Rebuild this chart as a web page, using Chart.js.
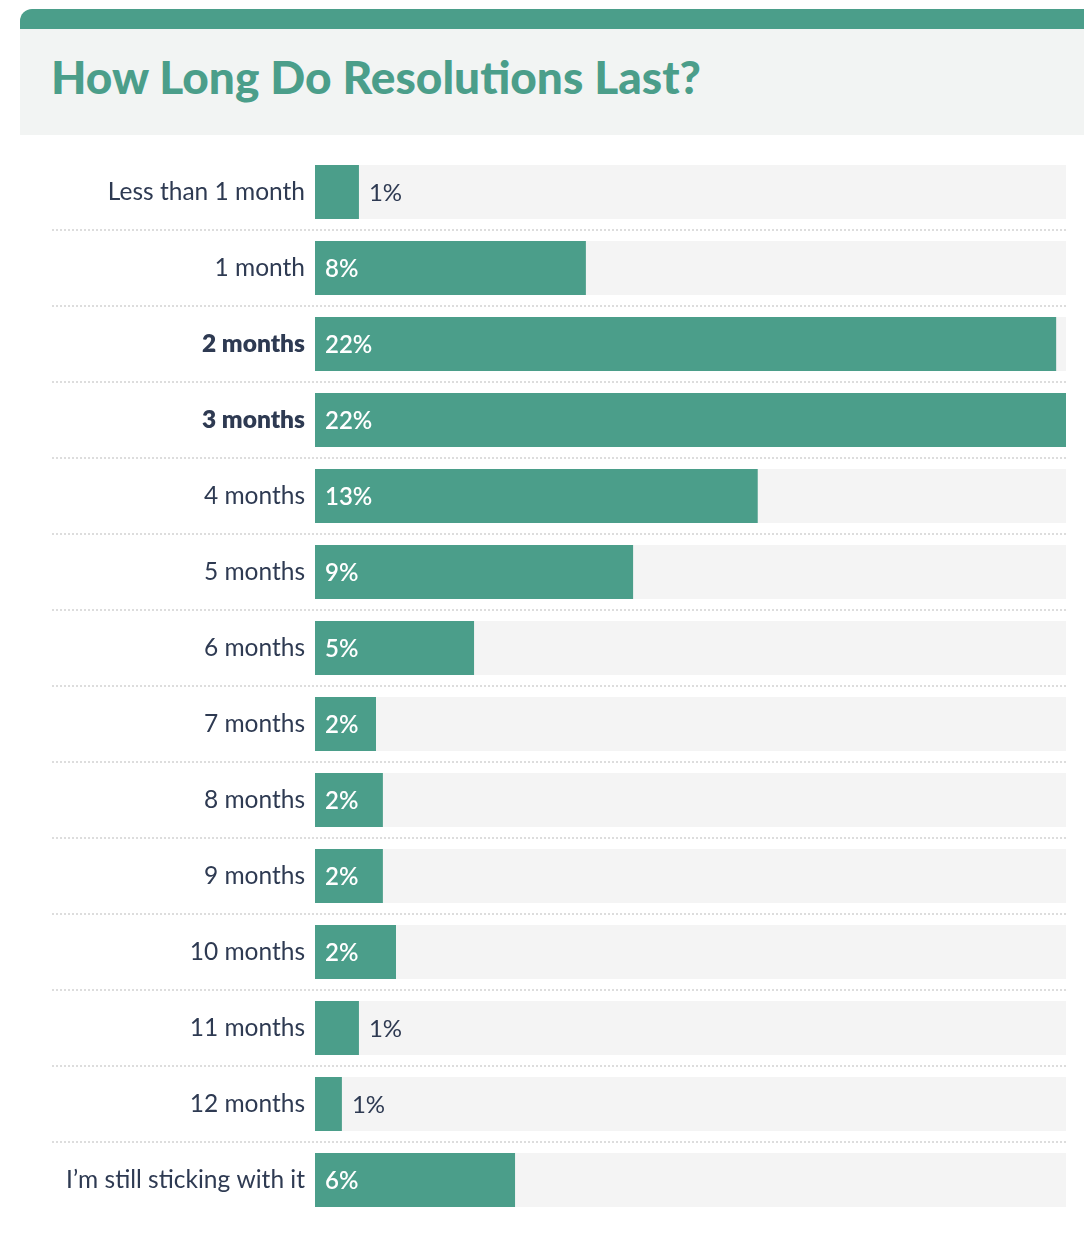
<!DOCTYPE html>
<html>
<head>
<meta charset="utf-8">
<script src="https://cdn.jsdelivr.net/npm/chart.js@4"></script>
<style>
  html, body { margin: 0; padding: 0; background: #ffffff; }
  body { width: 1084px; height: 1246px; position: relative; overflow: hidden; font-family: Lato, "Noto Sans", sans-serif; }
  #panel {
    position: absolute; left: 20px; top: 9px; width: 1080px; height: 106px;
    background: #f2f4f3; border-top: 20px solid #4b9e8a; border-top-left-radius: 12px;
  }
  #title {
    position: absolute; left: 31px; top: 20px; margin: 0;
    font-family: Lato, sans-serif; font-weight: 900; font-size: 46px; color: #4b9e8a; letter-spacing: 0px;
  }
  #wrap { position: absolute; left: 0; top: 135px; width: 1084px; height: 1111px; }
</style>
</head>
<body>
<div id="panel"><h1 id="title">How Long Do Resolutions Last?</h1></div>
<div id="wrap"><canvas id="c" width="1084" height="1111"></canvas></div>
<script>
// Data
const categories = ["Less than 1 month", "1 month", "2 months", "3 months", "4 months", "5 months", "6 months", "7 months", "8 months", "9 months", "10 months", "11 months", "12 months", "I\u2019m still sticking with it"];
const shares = [1.34, 8.26, 22.6, 22.9, 13.5, 9.7, 4.85, 1.86, 2.07, 2.07, 2.47, 1.34, 0.82, 6.1];
const shareLabels = ["1%", "8%", "22%", "22%", "13%", "9%", "5%", "2%", "2%", "2%", "2%", "1%", "1%", "6%"];

const GREEN = "#4b9e8a";
const TRACK = "#f4f4f4";
const TEXT = "#2e3a52";
const maxShare = Math.max(...shares);
const topLabel = shareLabels.reduce((a, b) => (parseFloat(b) > parseFloat(a) ? b : a));

const rowDecor = {
  id: "rowDecor",
  beforeDatasetsDraw(chart) {
    const { ctx } = chart;
    const y = chart.scales.y;
    const area = chart.chartArea;
    ctx.save();
    ctx.fillStyle = "#dddddd";
    for (let i = 0; i < categories.length - 1; i++) {
      const yy = Math.round((y.getPixelForValue(i) + y.getPixelForValue(i + 1)) / 2) - 1;
      for (let x = 52; x < area.right; x += 4) {
        ctx.fillRect(x, yy, 2, 2);
      }
    }
    ctx.restore();
  },
  afterDatasetsDraw(chart) {
    const { ctx } = chart;
    const meta = chart.getDatasetMeta(1);
    ctx.save();
    ctx.textBaseline = "middle";
    ctx.textAlign = "left";
    meta.data.forEach((bar, i) => {
      const w = bar.x - bar.base;
      const txt = shareLabels[i];
      if (w > 55) {
        ctx.fillStyle = "#ffffff";
        ctx.font = "600 24px Lato, sans-serif";
        ctx.fillText(txt, bar.base + 10, bar.y + 1);
      } else {
        ctx.fillStyle = TEXT;
        ctx.font = "400 24px Lato, sans-serif";
        ctx.fillText(txt, bar.x + 10, bar.y + 1);
      }
    });
    ctx.restore();
  }
};

new Chart(document.getElementById("c"), {
  type: "bar",
  data: {
    labels: categories,
    datasets: [
      {
        label: "track",
        data: categories.map(() => maxShare),
        backgroundColor: TRACK,
        grouped: false,
        order: 2,
        barPercentage: 54 / 76,
        categoryPercentage: 1
      },
      {
        label: "Share",
        data: shares,
        backgroundColor: GREEN,
        grouped: false,
        order: 1,
        barPercentage: 54 / 76,
        categoryPercentage: 1
      }
    ]
  },
  options: {
    indexAxis: "y",
    responsive: false,
    animation: false,
    layout: { padding: { top: 19, bottom: 28, left: 0, right: 18 } },
    plugins: { legend: { display: false }, tooltip: { enabled: false }, title: { display: false } },
    scales: {
      x: { display: false, min: 0, max: maxShare },
      y: {
        grid: { display: false, drawTicks: false },
        border: { display: false },
        afterFit(scale) { scale.width = 315; scale.paddingTop = 0; scale.paddingBottom = 0; },
        ticks: {
          padding: 10,
          color: TEXT,
          font: (c) => ({
            family: "Lato, sans-serif",
            size: 24.5,
            weight: shareLabels[c.index] === topLabel ? "800" : "400"
          })
        }
      }
    }
  },
  plugins: [rowDecor]
});
</script>
</body>
</html>
